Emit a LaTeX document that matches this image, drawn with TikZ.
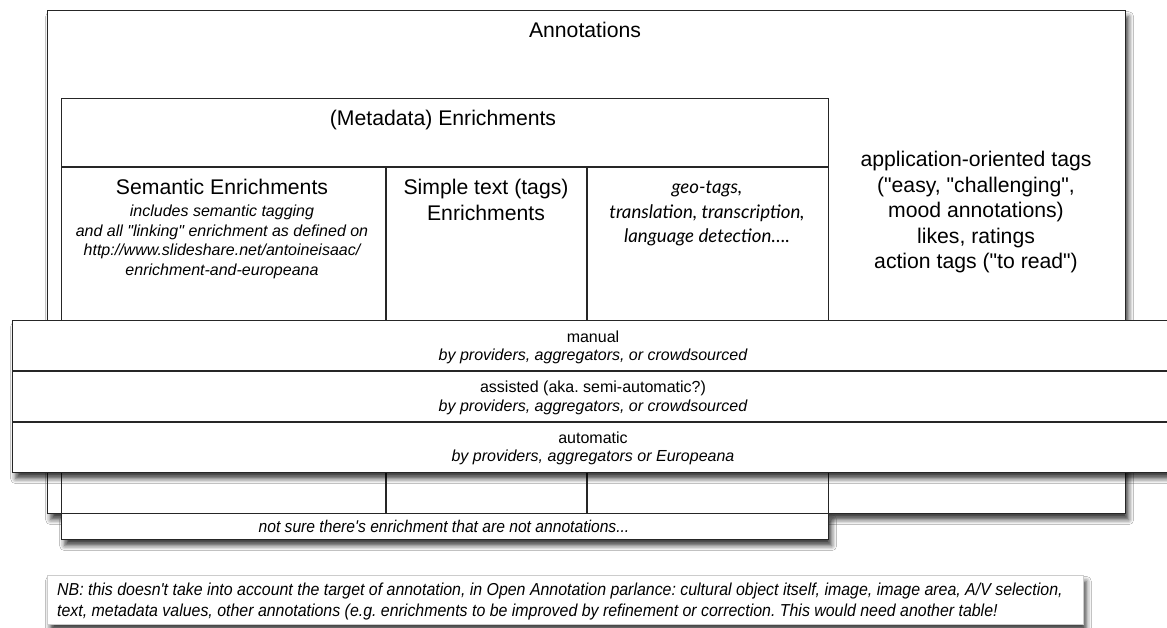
\documentclass[tikz,border=0pt]{standalone}
\usepackage{fontspec}
\setmainfont{Liberation Sans}[Ligatures=TeXOff]
\newfontfamily\narrowfont{Liberation Sans}[FakeStretch=0.92, Ligatures=TeXOff]
\newfontfamily\gillfont{Lato}[Ligatures=TeXOff]
\usetikzlibrary{shadows.blur}
\begin{document}
\frenchspacing
\begin{tikzpicture}[x=1pt,y=-1pt,
  box/.style={draw=black!85, line width=1.3pt, fill=white, inner sep=0pt, anchor=north west},
  shad/.style={blur shadow={shadow xshift=3pt, shadow yshift=-6pt, shadow blur radius=5pt, shadow opacity=75}},
  rule/.style={draw=black!85, line width=1.3pt},
  big/.style={font=\fontsize{21.2}{25.5}\selectfont, align=center, inner sep=0pt},
  small/.style={font=\fontsize{16}{19.5}\selectfont, align=center, inner sep=0pt},
  smallit/.style={font=\fontsize{16}{19.5}\selectfont\itshape, align=center, inner sep=0pt},
  txt/.style={inner sep=0pt}]
\useasboundingbox (0,0) rectangle (1167,628);
\fill[white] (0,0) rectangle (1167,628);
% outer annotations box
\node[box, shad, minimum width=1078pt, minimum height=503pt] (ann) at (47,10) {};
\node[big] (anntitle) at (585,30) {Annotations};
% enrichments box
\node[box, minimum width=767pt, minimum height=415pt] (enr) at (61,98) {};
\coordinate (hl) at (61,167);
\coordinate (hr) at (828,167);
\draw[rule] (hl) -- (hr);
\coordinate (c1t) at (386,167);
\coordinate (c1b) at (386,513);
\coordinate (c2t) at (587,167);
\coordinate (c2b) at (587,513);
\draw[rule] (c1t) -- (c1b);
\draw[rule] (c2t) -- (c2b);
\node[big] (enrtitle) at (443,120) {(Metadata) Enrichments};
\node[big, anchor=north] (sem) at (222,179) {Semantic Enrichments};
\node[smallit, anchor=north] (semtxt) at (222,205)
  {includes semantic tagging\\and all "linking" enrichment as defined on\\http://www.slideshare.net/antoineisaac/\\enrichment-and-europeana};
\node[big, anchor=north, font=\fontsize{21.2}{26}\selectfont] (simple) at (486,179) {Simple text (tags)\\Enrichments};
\node[anchor=north, align=center, inner sep=0pt, font=\gillfont\itshape\fontsize{18.7}{24.5}\selectfont] (geo) at (707,181)
  {geo-tags,\\translation, transcription,\\language detection….};
\node[big, anchor=north] (app) at (976,151)
  {application-oriented tags\\("easy, "challenging",\\mood annotations)\\likes, ratings\\action tags ("to read")};
% not sure box
\node[box, shad, minimum width=767pt, minimum height=26pt] (notsure) at (61,513) {};
\node[txt, font=\narrowfont\itshape\fontsize{17}{19}\selectfont] (notsuretxt) at (444,526)
  {not sure there's enrichment that are not annotations...};
% rows box
\node[box, shad, minimum width=1160pt, minimum height=152pt] (rows) at (12,320) {};
\coordinate (r1l) at (12,371);
\coordinate (r1r) at (1172,371);
\coordinate (r2l) at (12,422);
\coordinate (r2r) at (1172,422);
\draw[rule] (r1l) -- (r1r);
\draw[rule] (r2l) -- (r2r);
\node[small] (manual) at (593,337) {manual};
\node[smallit] (manualb) at (593,356) {by providers, aggregators, or crowdsourced};
\node[small] (assisted) at (593,388) {assisted (aka. semi-automatic?)};
\node[smallit] (assistedb) at (593,407) {by providers, aggregators, or crowdsourced};
\node[small] (auto) at (593,438) {automatic};
\node[smallit] (autob) at (593,457) {by providers, aggregators or Europeana};
% NB box
\node[box, shad, draw=black!20, line width=0.6pt, minimum width=1036pt, minimum height=49pt] (nb) at (47,575) {};
\node[txt, anchor=north west, align=left, font=\narrowfont\itshape\fontsize{17.3}{21}\selectfont] (nbtxt) at (57,583)
  {NB: this doesn't take into account the target of annotation, in Open Annotation parlance: cultural object itself, image, image area, A/V selection,\\text, metadata values, other annotations (e.g. enrichments to be improved by refinement or correction. This would need another table!};
\end{tikzpicture}
\end{document}
